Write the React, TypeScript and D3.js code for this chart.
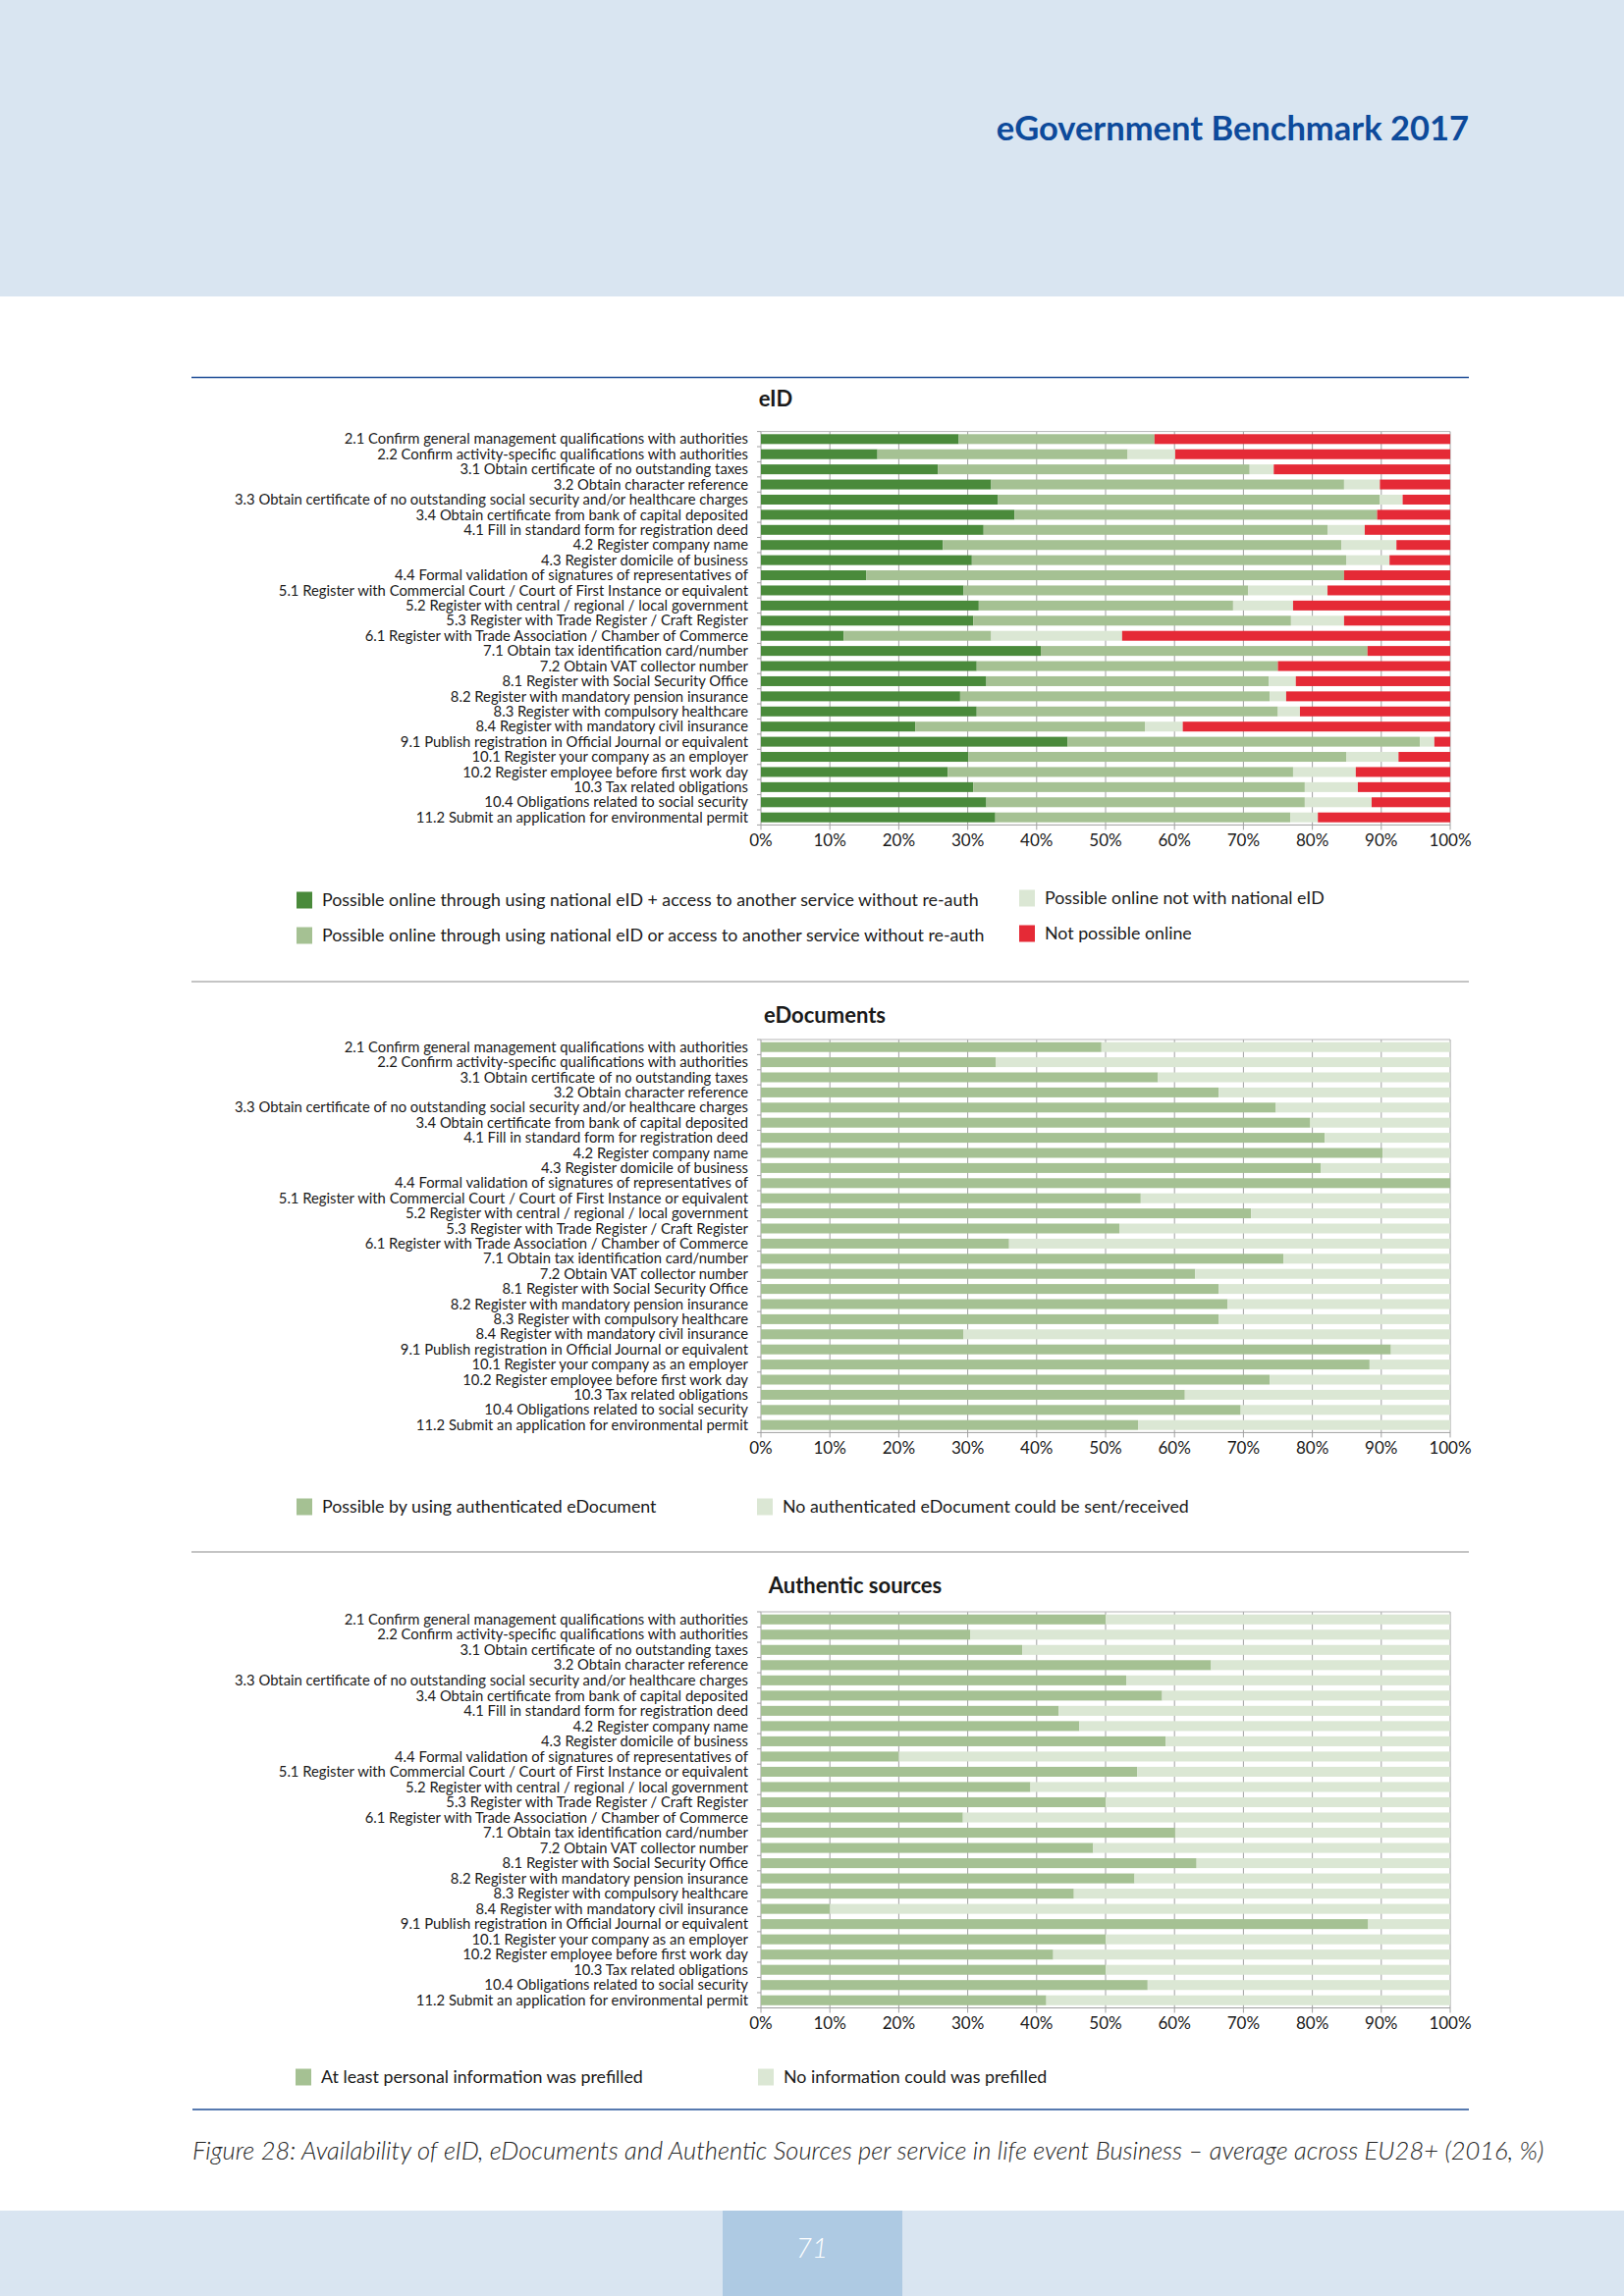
import React from 'react';
import * as d3 from 'd3';

// service categories (same for all three panels)
const services = [
  '2.1 Confirm general management qualifications with authorities',
  '2.2 Confirm activity-specific qualifications with authorities',
  '3.1 Obtain certificate of no outstanding taxes',
  '3.2 Obtain character reference',
  '3.3 Obtain certificate of no outstanding social security and/or healthcare charges',
  '3.4 Obtain certificate from bank of capital deposited',
  '4.1 Fill in standard form for registration deed',
  '4.2 Register company name',
  '4.3 Register domicile of business',
  '4.4 Formal validation of signatures of representatives of',
  '5.1 Register with Commercial Court / Court of First Instance or equivalent',
  '5.2 Register with central / regional / local government',
  '5.3 Register with Trade Register / Craft Register',
  '6.1 Register with Trade Association / Chamber of Commerce',
  '7.1 Obtain tax identification card/number',
  '7.2 Obtain VAT collector number',
  '8.1 Register with Social Security Office',
  '8.2 Register with mandatory pension insurance',
  '8.3 Register with compulsory healthcare',
  '8.4 Register with mandatory civil insurance',
  '9.1 Publish registration in Official Journal or equivalent',
  '10.1 Register your company as an employer',
  '10.2 Register employee before first work day',
  '10.3 Tax related obligations',
  '10.4 Obligations related to social security',
  '11.2 Submit an application for environmental permit',
];

// eID (%)
const eidFull = [28.7, 16.9, 25.7, 33.4, 34.4, 36.8, 32.3, 26.4, 30.6, 15.3, 29.4, 31.6, 30.8, 12.0, 40.6, 31.3, 32.7, 28.9, 31.3, 22.4, 44.5, 30.1, 27.1, 30.8, 32.7, 34.0];
const eidPartial = [28.4, 36.3, 45.2, 51.2, 55.4, 52.6, 49.9, 57.8, 54.3, 69.3, 41.3, 36.9, 46.1, 21.4, 47.4, 43.7, 41.0, 44.9, 43.7, 33.3, 51.1, 54.8, 50.1, 48.1, 46.2, 42.8];
const eidNotNational = [0, 6.9, 3.5, 5.2, 3.3, 0, 5.4, 8.0, 6.3, 0, 11.5, 8.7, 7.7, 19.0, 0, 0, 3.9, 2.4, 3.2, 5.5, 2.1, 7.6, 9.1, 7.7, 9.7, 4.0];
const eidNotOnline = [42.9, 39.9, 25.6, 10.2, 6.9, 10.6, 12.4, 7.8, 8.8, 15.4, 17.8, 22.8, 15.4, 47.6, 12.0, 25.0, 22.4, 23.8, 21.8, 38.8, 2.3, 7.5, 13.7, 13.4, 11.4, 19.2];

// eDocuments (%)
const edocPossible = [49.4, 34.1, 57.6, 66.4, 74.7, 79.7, 81.8, 90.2, 81.2, 100, 55.1, 71.1, 52.0, 36.0, 75.8, 63.0, 66.4, 67.7, 66.4, 29.4, 91.4, 88.3, 73.8, 61.5, 69.6, 54.7];
const edocNone = [50.6, 65.9, 42.4, 33.6, 25.3, 20.3, 18.2, 9.8, 18.8, 0, 44.9, 28.9, 48.0, 64.0, 24.2, 37.0, 33.6, 32.3, 33.6, 70.6, 8.6, 11.7, 26.2, 38.5, 30.4, 45.3];

// Authentic sources (%)
const authPrefilled = [50.0, 30.4, 37.9, 65.3, 53.0, 58.2, 43.2, 46.2, 58.7, 20.0, 54.6, 39.1, 50.0, 29.3, 60.1, 48.2, 63.2, 54.2, 45.4, 10.0, 88.1, 50.0, 42.4, 50.0, 56.1, 41.4];
const authNone = [50.0, 69.6, 62.1, 34.7, 47.0, 41.8, 56.8, 53.8, 41.3, 80.0, 45.4, 60.9, 50.0, 70.7, 39.9, 51.8, 36.8, 45.8, 54.6, 90.0, 11.9, 50.0, 57.6, 50.0, 43.9, 58.6];

const xTicks = [0, 10, 20, 30, 40, 50, 60, 70, 80, 90, 100];

const DARK = '#4a8a3b';
const MID = '#a5c193';
const PALE = '#dbe7d4';
const RED = '#e52a36';

const FONT = 'Lato, "Open Sans", sans-serif';
const W = 1654;
const H = 2339;
const X0 = 775;
const X1 = 1477;

interface Series { key: string; color: string; values: number[] }
interface LegendItem { label: string; color: string; x: number; y: number }

const x = d3.scaleLinear().domain([0, 100]).range([X0, X1]);

function Panel({ title, titleX, titleY, top, bottom, series, legend }: {
  title: string; titleX: number; titleY: number; top: number; bottom: number;
  series: Series[]; legend: LegendItem[];
}) {
  const y = d3.scaleBand<string>().domain(services).range([top, bottom])
    .paddingInner(0.35).paddingOuter(0.175);
  const rows = services.map((s, i) => {
    const r: Record<string, any> = { service: s };
    series.forEach(se => { r[se.key] = se.values[i]; });
    return r;
  });
  const stacked = d3.stack<Record<string, any>>().keys(series.map(s => s.key))(rows);
  const step = y.step();

  return (
    <g>
      <text x={titleX} y={titleY} textAnchor="middle" fontFamily={FONT} fontWeight="bold"
        fontSize={22} fill="#1a1a1a">{title}</text>

      {/* grid */}
      {xTicks.map(t => (
        <line key={t} x1={x(t)} x2={x(t)} y1={top} y2={bottom + 5} stroke="#a0a0a0" strokeWidth={1} />
      ))}
      <line x1={X0} x2={X1} y1={top} y2={top} stroke="#b5b5b5" strokeWidth={1} />
      <line x1={X0} x2={X1} y1={bottom} y2={bottom} stroke="#a0a0a0" strokeWidth={1} />
      {d3.range(services.length + 1).map(i => (
        <line key={i} x1={X0 - 4} x2={X0} y1={top + i * step} y2={top + i * step} stroke="#a0a0a0" />
      ))}

      {/* bars */}
      {stacked.map((layer, li) => (
        <g key={layer.key} fill={series[li].color}>
          {layer.map((d, i) => (
            d[1] - d[0] > 0 ? (
              <rect key={i} x={x(d[0])} y={y(services[i])} width={x(d[1]) - x(d[0])}
                height={y.bandwidth()} />
            ) : null
          ))}
        </g>
      ))}

      {/* category labels */}
      {services.map(s => (
        <text key={s} x={762} y={(y(s) ?? 0) + y.bandwidth() / 2} dy="0.35em" textAnchor="end"
          fontFamily={FONT} fontSize={14.8} fill="#1a1a1a">{s}</text>
      ))}

      {/* x tick labels */}
      {xTicks.map(t => (
        <text key={t} x={x(t)} y={bottom + 16} dy="0.35em" textAnchor="middle" fontFamily={FONT}
          fontSize={17} fill="#1a1a1a">{t}%</text>
      ))}

      {/* legend */}
      {legend.map(l => (
        <g key={l.label}>
          <rect x={l.x} y={l.y - 8.5} width={16} height={17} fill={l.color} />
          <text x={l.x + 26} y={l.y} dy="0.35em" fontFamily={FONT} fontSize={17.8} fill="#1a1a1a">{l.label}</text>
        </g>
      ))}
    </g>
  );
}

export default function App() {
  return (
    <svg width={W} height={H} style={{ position: 'absolute', left: 0, top: 0, background: '#fff' }}>
      {/* header band */}
      <rect x={0} y={0} width={W} height={302} fill="#d9e5f1" />
      <text x={1496} y={143} textAnchor="end" fontFamily={FONT} fontWeight="bold" fontSize={34.5}
        fill="#0d4a9b">eGovernment Benchmark 2017</text>
      <line x1={195} x2={1496} y1={384.5} y2={384.5} stroke="#1f4e96" strokeWidth={1.5} />

      <Panel title="eID" titleX={790} titleY={414} top={439.6} bottom={840.4}
        series={[
          { key: 'full', color: DARK, values: eidFull },
          { key: 'partial', color: MID, values: eidPartial },
          { key: 'notNational', color: PALE, values: eidNotNational },
          { key: 'notOnline', color: RED, values: eidNotOnline },
        ]}
        legend={[
          { label: 'Possible online through using national eID + access to another service without re-auth', color: DARK, x: 302, y: 917 },
          { label: 'Possible online through using national eID or access to another service without re-auth', color: MID, x: 302, y: 953 },
          { label: 'Possible online not with national eID', color: PALE, x: 1038, y: 915 },
          { label: 'Not possible online', color: RED, x: 1038, y: 951 },
        ]} />

      <line x1={195} x2={1496} y1={1000} y2={1000} stroke="#b0b0b0" strokeWidth={1.5} />

      <Panel title="eDocuments" titleX={840} titleY={1042} top={1059} bottom={1459.4}
        series={[
          { key: 'possible', color: MID, values: edocPossible },
          { key: 'none', color: PALE, values: edocNone },
        ]}
        legend={[
          { label: 'Possible by using authenticated eDocument', color: MID, x: 302, y: 1535 },
          { label: 'No authenticated eDocument could be sent/received', color: PALE, x: 771, y: 1535 },
        ]} />

      <line x1={195} x2={1496} y1={1581} y2={1581} stroke="#b0b0b0" strokeWidth={1.5} />

      <Panel title="Authentic sources" titleX={871} titleY={1623} top={1642} bottom={2045.5}
        series={[
          { key: 'prefilled', color: MID, values: authPrefilled },
          { key: 'none', color: PALE, values: authNone },
        ]}
        legend={[
          { label: 'At least personal information was prefilled', color: MID, x: 301, y: 2116 },
          { label: 'No information could was prefilled', color: PALE, x: 772, y: 2116 },
        ]} />

      <line x1={196} x2={1496} y1={2149} y2={2149} stroke="#1f4e96" strokeWidth={1.5} />
      <text x={196} y={2200} fontFamily={FONT} fontStyle="italic" fontWeight={300} fontSize={25.5}
        fill="#222">Figure 28: Availability of eID, eDocuments and Authentic Sources per service in life event Business – average across EU28+ (2016, %)</text>

      {/* footer band */}
      <rect x={0} y={2252} width={W} height={H - 2252} fill="#d9e5f1" />
      <rect x={736} y={2252} width={183} height={H - 2252} fill="#aecae3" />
      <text x={827} y={2290} dy="0.35em" textAnchor="middle" fontFamily={FONT} fontStyle="italic"
        fontWeight={300} fontSize={28} fill="#fff">71</text>
    </svg>
  );
}
